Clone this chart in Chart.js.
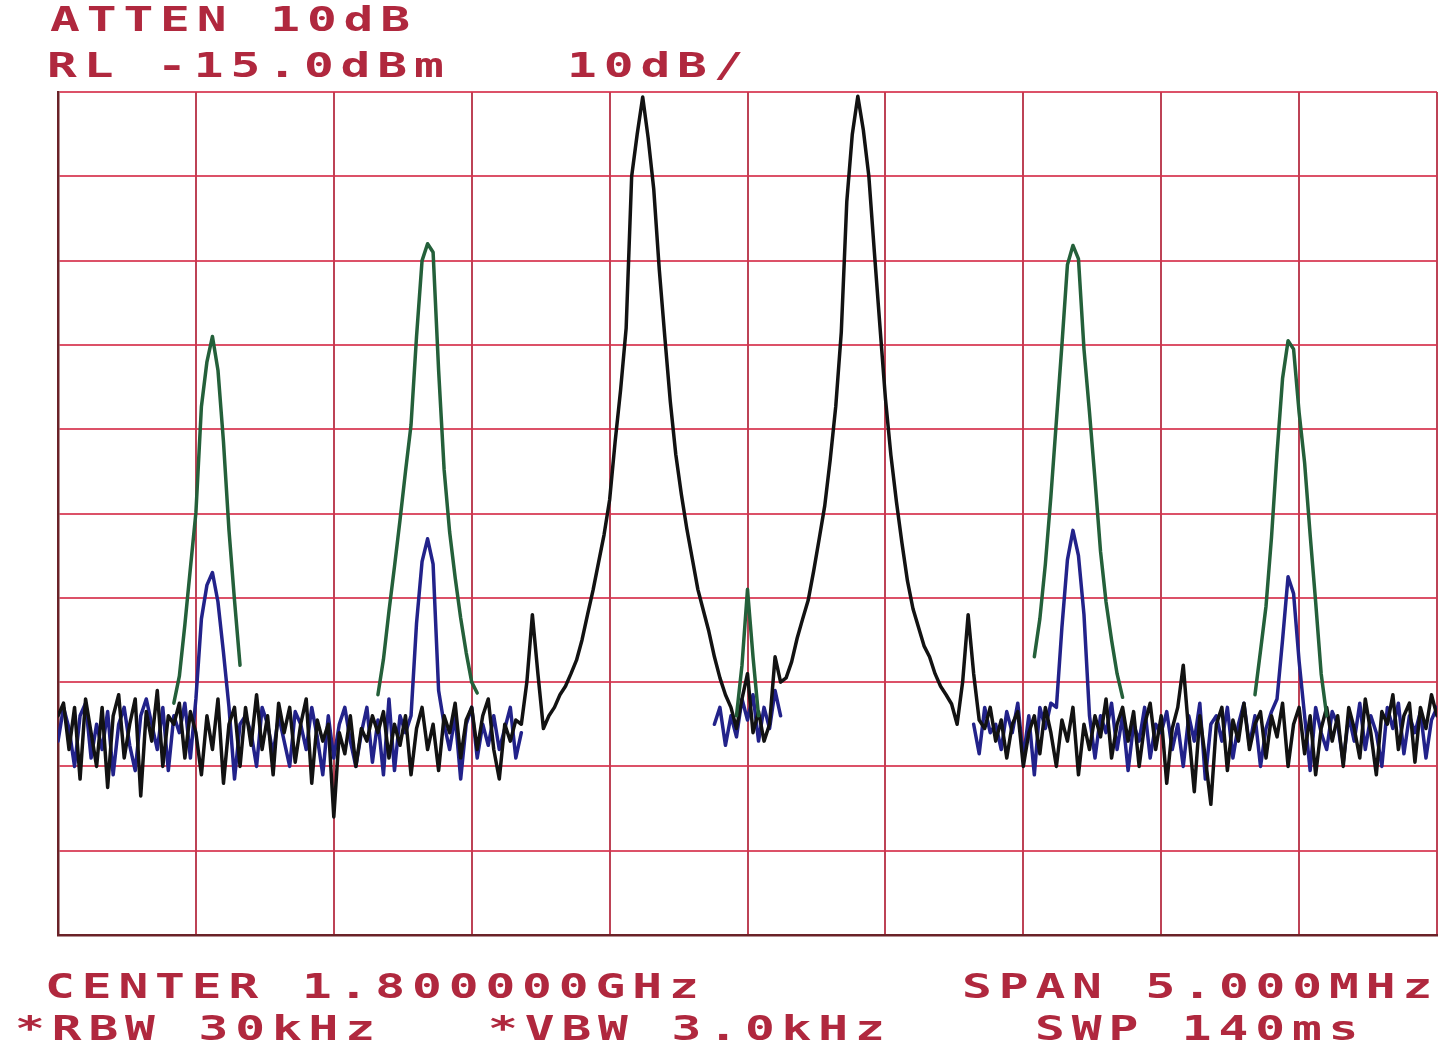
<!DOCTYPE html>
<html>
<head>
<meta charset="utf-8">
<title>Spectrum 1.8 GHz</title>
<script src="https://cdn.jsdelivr.net/npm/chart.js@4.4.1/dist/chart.umd.min.js"></script>
<style>
  html, body { margin: 0; padding: 0; background: #fff; }
  #wrap { position: relative; width: 1441px; height: 1045px; overflow: hidden; background: #fff; }
  #wrap canvas { position: absolute; left: 0; top: 0; }
  .lbl {
    position: absolute;
    font-family: "DejaVu Sans Mono", monospace;
    font-weight: bold;
    font-size: 33px;
    line-height: 33px;
    color: #b0283e;
    letter-spacing: 4.6px;
    transform: scaleX(1.5);
    transform-origin: 0 0;
    white-space: pre;
  }
</style>
</head>
<body>
<div id="wrap">
  <canvas id="spec" width="1441" height="1045"></canvas>
  <div class="lbl" style="left:50px;top:3px">ATTEN 10dB</div>
  <div class="lbl" style="left:47px;top:49px">RL -15.0dBm</div>
  <div class="lbl" style="left:567px;top:49px">10dB/</div>
  <div class="lbl" style="left:45px;top:970px">CENTER 1.800000GHz</div>
  <div class="lbl" style="left:962px;top:970px">SPAN 5.000MHz</div>
  <div class="lbl" style="left:15px;top:1012px">*RBW 30kHz</div>
  <div class="lbl" style="left:488px;top:1012px">*VBW 3.0kHz</div>
  <div class="lbl" style="left:1035px;top:1012px">SWP 140ms</div>
</div>
<script>
  // sweep: offset from 1.8 GHz centre, MHz
  const sweepStart = -2.5;
  const sweepStep = 0.02;

  // reference level and scale (dBm)
  const refLevel = -15;
  const dbPerDiv = 10;

  // black trace, whole sweep (dBm)
  const blackLevel = [
    -89, -87.5, -93, -88, -96.5, -87, -91, -95, -88, -97.5,
    -89, -86.5, -94, -90, -87, -98.5, -88.5, -92, -86, -95,
    -89, -90, -87.5, -94, -88.5, -91, -96, -89, -93, -87,
    -97, -90, -88, -95, -88, -92.5, -86.5, -93, -89, -96,
    -87.5, -91, -88, -94.5, -90, -87, -97, -89.5, -92, -90,
    -101, -91, -93.5, -89, -95, -90.5, -92, -89, -91, -88.5,
    -94, -90, -92.5, -89, -96, -90.5, -88, -93, -90, -95.5,
    -89, -91, -87.5, -94, -89.5, -88, -93, -89, -87, -93,
    -96.5, -90, -92, -89.5, -90, -85, -77, -84, -90.5, -89,
    -88, -86.5, -85.5, -84, -82.4, -80, -77, -74.1, -70.8, -67.5,
    -63.4, -56.5, -50.3, -43, -25, -20, -15.6, -20.5, -26.5, -36,
    -44, -51.7, -58, -62.7, -66.8, -70.4, -74, -76.5, -79, -82,
    -84.5, -86.5, -88, -90.5, -87, -84, -91, -88.5, -92, -90,
    -82, -85, -84.5, -82.6, -79.8, -77.5, -75.3, -71.8, -68, -64.1,
    -58.6, -52.3, -43.5, -28, -20, -15.5, -19.5, -25, -34, -42.7,
    -51.3, -58.1, -63.6, -68.5, -73, -76.3, -78.5, -80.7, -82, -84,
    -85.5, -86.5, -87.6, -90, -85, -77, -84, -89.5, -90.5, -88,
    -92, -89.5, -94, -90, -88.5, -95, -91, -89, -93.5, -88,
    -91, -95, -89.5, -92, -88, -96, -90, -93, -89, -91.5,
    -87, -94, -90, -88, -92, -88.5, -95, -90, -87.5, -93,
    -89, -97, -90.5, -88, -83, -91, -98, -89, -94, -99.5,
    -90, -88, -95.5, -89.5, -92, -87.5, -93, -90, -88.5, -94,
    -89, -91.5, -87.5, -95, -90, -88, -93.5, -89, -96, -90.5,
    -88, -92, -89, -95, -88, -90.5, -94, -87, -91, -96,
    -88.5, -90, -86.5, -93, -89, -87.5, -94.5, -88, -90.5, -86.5,
    -89
  ];

  // blue trace, drawn only where it shows (start index, levels)
  const blueStart = [0, 119, 166];
  const blueLevel = [
    [
      -92, -88, -90.5, -95, -89, -87.5, -94, -90, -93, -88.5,
      -96, -90, -88, -92.5, -95.5, -89, -87,
      -90, -93, -88, -95.5, -89, -91, -87.5, -94, -87, -77.5, -73.5, -72, -75.5, -81.5, -88, -96.5, -90, -89, -91, -95, -88, -90, -93.5, -89,
      -92, -95, -88.5, -90, -93, -88, -91.5, -96, -89, -94, -90, -88, -92, -95,
      -91, -88, -94.5, -89.5, -96, -87, -95.5, -89, -91, -89, -78, -70.7, -68, -71, -86, -90, -93, -89, -96.5, -90, -88, -94, -90, -92.5, -89, -93,
      -90.5, -88, -94, -91
    ],
    [-90, -88, -92.5, -89, -91.5, -87, -89.5, -86.5, -92, -88, -90.5, -86, -89],
    [
      -90, -93.5, -88, -91,
      -90, -93, -88.5, -91, -87.5, -94, -89, -96, -88, -90.5, -87.5, -88, -78.5, -70.5, -67, -70, -77, -89, -94, -89, -91, -87.5, -93, -89, -95.5, -90, -92, -88, -94, -90, -91,
      -88.5, -93, -90, -95, -89, -92, -87.5, -96.5, -90,
      -89, -92, -88, -94, -90, -87.5, -92.5, -89, -95, -90.5, -88.5, -87, -80, -72.5, -74.5, -82.5, -89, -95.5, -88, -91, -93, -88.5, -90, -94.5, -89, -92, -87.5, -93, -89, -91, -95, -88, -90.5, -87.5, -93.5, -89, -91, -88.5, -94, -89.5, -88
    ]
  ];

  // green trace, drawn only around its responses
  const greenStart = [21, 58, 123, 177, 217];
  const greenLevel = [
    [-87.5, -84.3, -78.2, -71.5, -64.9, -52.3, -47, -44, -48, -56.5, -67, -75.3, -83],
    [-86.5, -82.3, -76.6, -71.3, -65.8, -60, -54.5, -44, -35, -33, -34, -48, -59.8, -67.2, -72.6, -77.4, -81.5, -85, -86.3],
    [-89, -83, -74, -82, -89],
    [-82, -77.5, -71, -63, -54, -45, -35.5, -33.2, -34.8, -45.5, -53, -61, -69.5, -75.5, -80, -84, -86.8],
    [-86.5, -81.3, -76, -67.8, -57.8, -49, -44.5, -45.5, -53, -59, -67.5, -75.5, -84, -89]
  ];

  const freqAt = i => Math.round((sweepStart + i * sweepStep) * 1000) / 1000;

  function fullTrace(levels) {
    return levels.map((y, i) => ({ x: freqAt(i), y }));
  }

  function segmentTrace(starts, pieces) {
    const pts = [];
    starts.forEach((s, k) => {
      pieces[k].forEach((y, j) => pts.push({ x: freqAt(s + j), y }));
      // break the line between segments
      pts.push({ x: freqAt(s + pieces[k].length - 1) + 0.0001, y: null });
    });
    return pts;
  }

  const traceStyle = (color) => ({
    borderColor: color,
    borderWidth: 3.5,
    pointRadius: 0,
    tension: 0,
    spanGaps: false,
    borderJoinStyle: 'round',
    borderCapStyle: 'round',
    fill: false
  });

  const spanMHz = 5;
  const divisions = 10;

  // first dataset is painted last: green on top, then black, blue underneath
  new Chart(document.getElementById('spec'), {
    type: 'line',
    data: {
      datasets: [
        Object.assign({ label: 'Trace C', data: segmentTrace(greenStart, greenLevel) }, traceStyle('#24603a')),
        Object.assign({ label: 'Trace A', data: fullTrace(blackLevel) }, traceStyle('#121212')),
        Object.assign({ label: 'Trace B', data: segmentTrace(blueStart, blueLevel) }, traceStyle('#22228a'))
      ]
    },
    options: {
      responsive: false,
      animation: false,
      parsing: false,
      layout: { padding: { left: 58, top: 92, right: 4, bottom: 110 } },
      plugins: {
        legend: { display: false },
        tooltip: { enabled: false }
      },
      scales: {
        x: {
          type: 'linear',
          min: -spanMHz / 2,
          max: spanMHz / 2,
          ticks: { display: false, stepSize: spanMHz / divisions },
          grid: { color: 'rgba(178,34,56,0.85)', lineWidth: 2, drawTicks: false },
          border: { display: true, color: '#6a2228', width: 2.5 }
        },
        y: {
          type: 'linear',
          min: refLevel - dbPerDiv * divisions,
          max: refLevel,
          ticks: { display: false, stepSize: dbPerDiv },
          grid: { color: 'rgba(214,50,78,0.85)', lineWidth: 2, drawTicks: false },
          border: { display: true, color: '#6a2228', width: 2.5 }
        }
      }
    }
  });
</script>
</body>
</html>
